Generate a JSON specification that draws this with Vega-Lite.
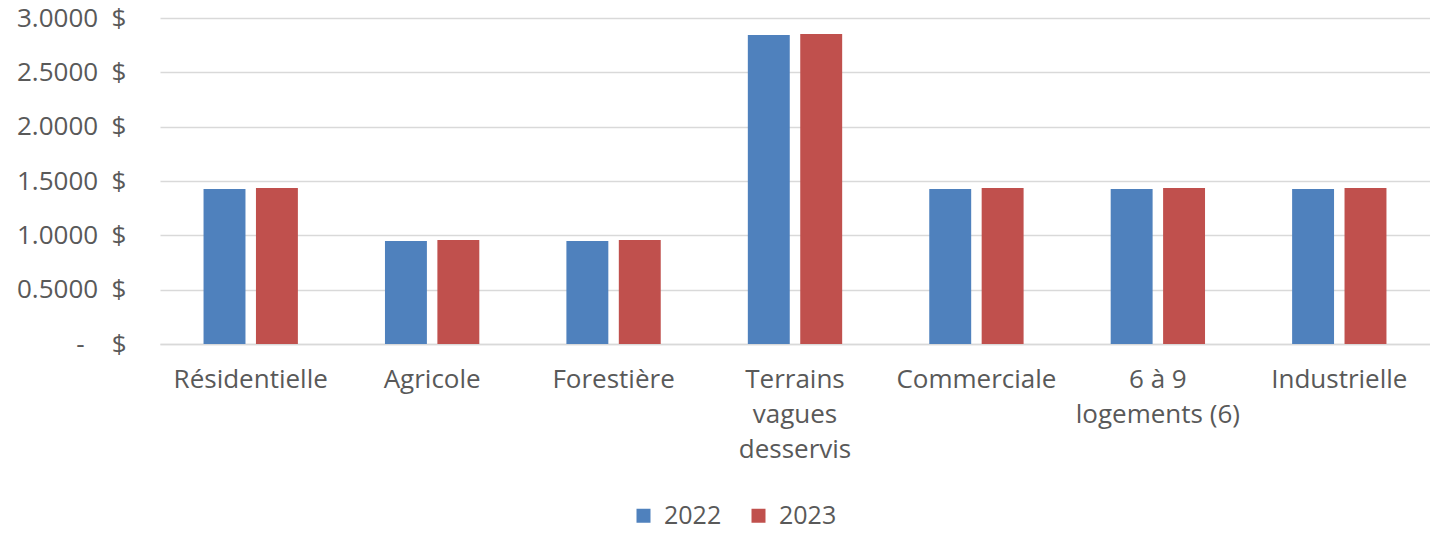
{
  "$schema": "https://vega.github.io/schema/vega-lite/v6.json",
  "width": 1270,
  "height": 326,
  "autosize": {"type": "none"},
  "padding": {"left": 160, "top": 18, "right": 0, "bottom": 191},
  "background": "white",
  "config": {"view": {"stroke": null}, "font": "Open Sans"},
  "data": {"values": [
    {"cat": "Résidentielle", "year": "2022", "value": 1.426},
    {"cat": "Résidentielle", "year": "2023", "value": 1.435},
    {"cat": "Agricole", "year": "2022", "value": 0.947},
    {"cat": "Agricole", "year": "2023", "value": 0.956},
    {"cat": "Forestière", "year": "2022", "value": 0.947},
    {"cat": "Forestière", "year": "2023", "value": 0.956},
    {"cat": "Terrains|vagues|desservis", "year": "2022", "value": 2.843},
    {"cat": "Terrains|vagues|desservis", "year": "2023", "value": 2.852},
    {"cat": "Commerciale", "year": "2022", "value": 1.426},
    {"cat": "Commerciale", "year": "2023", "value": 1.435},
    {"cat": "6 à 9|logements (6)", "year": "2022", "value": 1.426},
    {"cat": "6 à 9|logements (6)", "year": "2023", "value": 1.435},
    {"cat": "Industrielle", "year": "2022", "value": 1.426},
    {"cat": "Industrielle", "year": "2023", "value": 1.435}
  ]},
  "mark": {"type": "bar"},
  "encoding": {
    "x": {
      "field": "cat", "type": "nominal", "sort": null,
      "scale": {"paddingInner": 0.48, "paddingOuter": 0.24},
      "axis": {
        "title": null, "labelAngle": 0, "ticks": false,
        "domain": true, "domainColor": "#d9d9d9", "domainWidth": 1.5,
        "labelExpr": "split(datum.label, '|')",
        "labelFontSize": 26, "labelColor": "#595959",
        "labelPadding": 22, "labelLineHeight": 35, "labelBaseline": "top",
        "labelLimit": 300, "labelOverlap": false
      }
    },
    "xOffset": {"field": "year", "type": "nominal", "scale": {"paddingInner": 0.2, "paddingOuter": 0}},
    "y": {
      "field": "value", "type": "quantitative",
      "scale": {"domain": [0, 3]},
      "axis": {
        "title": null, "values": [0, 0.5, 1, 1.5, 2, 2.5, 3],
        "ticks": false, "domain": false, "labelOverlap": false,
        "gridColor": "#d9d9d9", "gridWidth": 1.5,
        "labelExpr": "datum.value == 0 ? '-\u00a0\u00a0\u00a0\u00a0$' : format(datum.value, '.4f') + '\u00a0\u00a0$'",
        "labelFontSize": 26, "labelColor": "#595959", "labelPadding": 34
      }
    },
    "color": {
      "field": "year", "type": "nominal",
      "scale": {"domain": ["2022", "2023"], "range": ["#4F81BD", "#C0504D"]},
      "legend": {
        "title": null, "orient": "none", "direction": "horizontal",
        "legendX": 471, "legendY": 485,
        "symbolType": "square", "symbolSize": 196, "symbolStrokeWidth": 0,
        "labelFontSize": 25, "labelColor": "#595959", "labelOffset": 8,
        "columnPadding": 24
      }
    }
  }
}
